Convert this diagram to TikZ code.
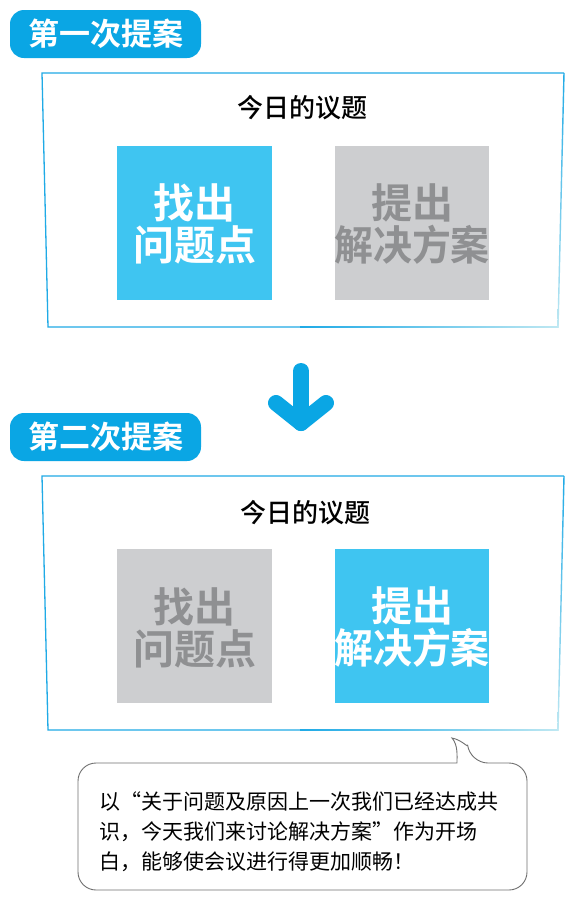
\documentclass[tikz,border=0pt]{standalone}
\usepackage{fontspec}
\usepackage{graphicx}
\newfontfamily\cjk{Noto Sans CJK SC}
\newfontfamily\cjkb{Noto Sans CJK SC Bold}
\newfontfamily\cjkm{Noto Sans CJK SC Medium}
\definecolor{labelblue}{HTML}{0AA6E4}
\definecolor{sqblue}{HTML}{3FC5F1}
\definecolor{sqgray}{HTML}{CDCED0}
\definecolor{txgray}{HTML}{8F9092}
\definecolor{framecol}{HTML}{1FAAE6}
\definecolor{framepale}{HTML}{BFE8F2}
\definecolor{bubcol}{HTML}{707070}
\begin{document}
\begin{tikzpicture}[x=1pt,y=-1pt,
  titlelabel/.style={fill=labelblue, rounded corners=14pt, minimum width=191pt, minimum height=48pt, inner sep=0pt, text=white, font=\cjkb\fontsize{31}{31}\selectfont},
  frame/.style={draw=framecol, line width=1.3pt},
  agenda/.style={inner sep=0pt, text=black, font=\cjkm\fontsize{26}{26}\selectfont},
  square/.style={minimum width=154.5pt, minimum height=154pt, inner sep=0pt, anchor=north west},
  bluesq/.style={square, fill=sqblue},
  graysq/.style={square, fill=sqgray},
  sqtext/.style={inner sep=0pt, align=center, font=\cjkb\fontsize{41}{42}\selectfont},
  bubble/.style={draw=bubcol, line width=0.9pt, fill=white},
  flow/.style={draw=labelblue, line width=16pt, line cap=round, line join=round}
]
\useasboundingbox (0,0) rectangle (583,900);
\fill[white] (0,0) rectangle (583,900);

% --- first proposal ---
\node[titlelabel] (t1) at (105.5,34) {第一次提案};
\draw[frame] (558,327) -- (48,327) -- (42,73) -- (564,73);
\shade[top color=framecol, bottom color=framepale] (563.3,73) -- (564.7,73) -- (558.7,327.6) -- (557.3,327.6) -- cycle;
\shade[left color=framecol, middle color=framecol, right color=framepale] (300,326.35) -- (558.7,326.35) -- (558.7,327.65) -- (300,327.65) -- cycle;
\node[agenda] (a1) at (302,108) {今日的议题};
\node[bluesq] (s1a) at (117,146) {};
\node[graysq] (s1b) at (334.5,146) {};
\node[sqtext, text=white] (x1a) at (194.5,224) {找出\\问题点};
\node[sqtext, text=txgray] (x1b) at (412,224) {提出\\\scalebox{0.95}[1]{解决方案}};

% --- arrow ---
\coordinate (ar1) at (301,371);
\coordinate (ar2) at (301,423);
\coordinate (arl) at (276,403);
\coordinate (arr) at (326,403);
\draw[flow] (ar1) -- (ar2);
\draw[flow] (arl) -- (ar2) -- (arr);

% --- second proposal ---
\node[titlelabel] (t2) at (105.5,437) {第二次提案};
\draw[frame] (558,730) -- (48,730) -- (42,476) -- (564,476);
\shade[top color=framecol, bottom color=framepale] (563.3,476) -- (564.7,476) -- (558.7,730.6) -- (557.3,730.6) -- cycle;
\shade[left color=framecol, middle color=framecol, right color=framepale] (300,729.35) -- (558.7,729.35) -- (558.7,730.65) -- (300,730.65) -- cycle;
\node[agenda] (a2) at (305,513) {今日的议题};
\node[graysq] (s2a) at (117,548.5) {};
\node[bluesq] (s2b) at (334.5,548.5) {};
\node[sqtext, text=txgray] (x2a) at (194.5,627.5) {找出\\问题点};
\node[sqtext, text=white] (x2b) at (412,627.5) {提出\\\scalebox{0.95}[1]{解决方案}};

% --- speech bubble ---
\draw[bubble, rounded corners=18pt] (457,763) -- (78,763) -- (78,890) -- (527,890) -- (527,763) -- (470,763) [sharp corners] .. controls (468,748) and (462,740) .. (452,738) .. controls (458,745) and (457,755) .. (457,763) -- cycle;
\node[anchor=west, align=left, inner sep=0pt, font=\cjk\fontsize{21}{30}\selectfont] (note) at (99,832) {以“关于问题及原因上一次我们已经达成共\\识，今天我们来讨论解决方案”作为开场\\白，能够使会议进行得更加顺畅！};
\end{tikzpicture}
\end{document}
